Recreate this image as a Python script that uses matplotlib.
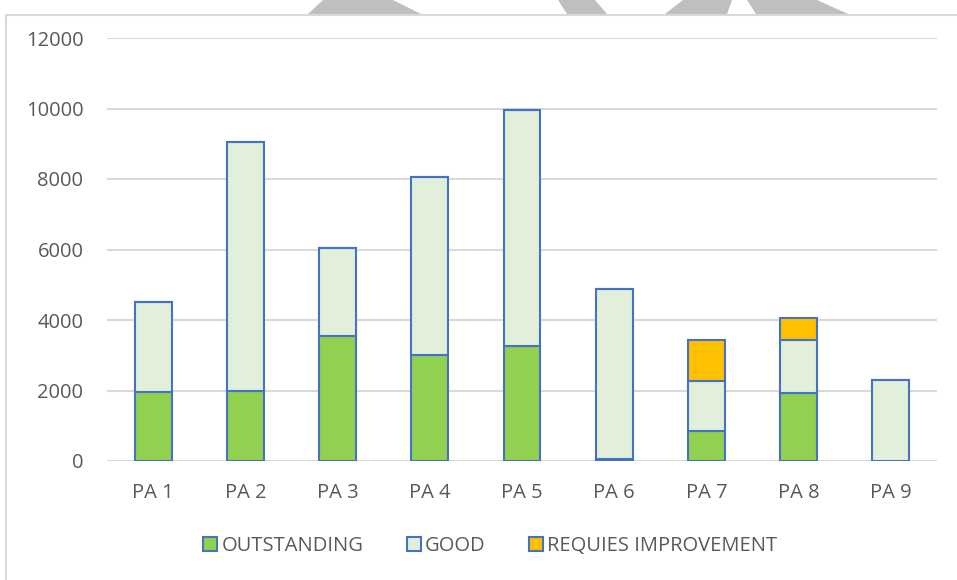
import matplotlib
matplotlib.use("Agg")
import matplotlib.pyplot as plt
from matplotlib.patches import Polygon
from matplotlib.lines import Line2D
import numpy as np

categories = ["PA 1", "PA 2", "PA 3", "PA 4", "PA 5", "PA 6", "PA 7", "PA 8", "PA 9"]
outstanding = [1950, 2000, 3550, 3000, 3250, 60, 850, 1920, 0]
good = [2550, 7050, 2500, 5050, 6700, 4820, 1420, 1510, 2300]
requires_improvement = [0, 0, 0, 0, 0, 0, 1160, 620, 0]
series_names = ["OUTSTANDING", "GOOD", "REQUIES IMPROVEMENT"]
yticks = [0, 2000, 4000, 6000, 8000, 10000, 12000]

plt.rcParams['font.family'] = ['Open Sans', 'DejaVu Sans']
W, H = 957, 580
fig = plt.figure(figsize=(W / 100, H / 100), dpi=100)
fig.patch.set_facecolor("white")

# decorative grey shapes peeking in at the top (page watermark) and chart border
shapes = [[(323, 0), (393, 0), (421, 14), (308, 14)],
          [(558, 0), (595, 0), (607, 14), (567, 14)],
          [(683, 0), (732, 0), (727, 14), (665, 14)],
          [(747, 0), (817, 0), (848, 14), (756, 14)]]
for pts in shapes:
    fig.patches.append(Polygon([(x / W, 1 - y / H) for x, y in pts], closed=True,
                               transform=fig.transFigure, facecolor="#bfbfbf",
                               edgecolor="none", zorder=0))
fig.lines.append(Line2D([5.5 / W, 5.5 / W], [0, 1 - 14.5 / H], transform=fig.transFigure,
                        color="#d9d9d9", lw=1.5))
fig.lines.append(Line2D([5.5 / W, 1], [1 - 14.5 / H, 1 - 14.5 / H], transform=fig.transFigure,
                        color="#d9d9d9", lw=1.5))

ax = fig.add_axes([107 / W, 119 / H, (937 - 107) / W, (461 - 38) / H])
x = np.arange(len(categories))
width = 0.4
edge = "#4472C4"
lw = 1.5
b1 = ax.bar(x, outstanding, width, color="#92D050", edgecolor=edge, linewidth=lw, label=series_names[0], zorder=3)
b2 = ax.bar(x, good, width, bottom=outstanding, color="#E2EFDA", edgecolor=edge, linewidth=lw, label=series_names[1], zorder=3)
bottom3 = [a + b for a, b in zip(outstanding, good)]
b3 = ax.bar(x, requires_improvement, width, bottom=bottom3, color="#FFC000", edgecolor=edge, linewidth=lw, label=series_names[2], zorder=3)

ax.set_xlim(-0.5, len(categories) - 0.5)
ax.set_ylim(0, 12000)
ax.set_yticks(yticks)
ax.set_yticklabels([str(v) for v in yticks])
ax.set_xticks(x)
ax.set_xticklabels(categories)
ax.grid(axis="y", color="#d9d9d9", linewidth=1.5, zorder=0)
for s in ax.spines.values():
    s.set_visible(False)
ax.tick_params(axis="both", length=0, colors="#595959", labelsize=14.5)
ax.tick_params(axis="y", pad=17)
ax.tick_params(axis="x", pad=16)

leg = fig.legend(handles=[b1, b2, b3], labels=series_names, loc="center",
                 bbox_to_anchor=(490 / W, 1 - 546 / H), ncol=3, frameon=False,
                 fontsize=14.5, handlelength=0.7, handleheight=0.7, handletextpad=0.2,
                 columnspacing=2.15, labelcolor="#595959")

fig.savefig("out.png", dpi=100, facecolor="white")
